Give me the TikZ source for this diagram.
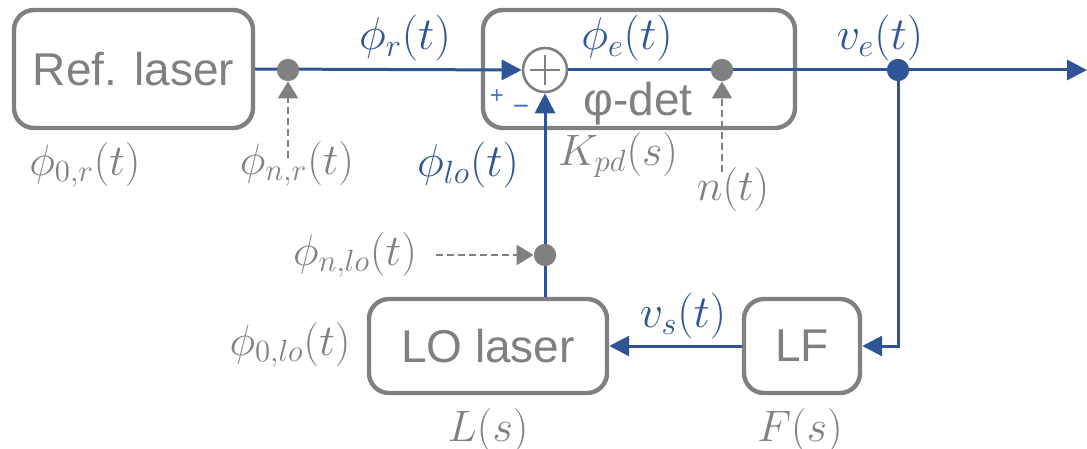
\RequirePackage{fix-cm}
\documentclass[tikz,border=0pt]{standalone}
\usepackage{fontspec}
\setmainfont{Liberation Sans}
\usetikzlibrary{arrows.meta}
\definecolor{lblue}{HTML}{2F5597}
\definecolor{lgray}{HTML}{808080}
\definecolor{pblue}{HTML}{4472C4}
\tikzset{
  blk/.style={draw=lgray, line width=2.2pt, rounded corners=10pt, fill=white, text=lgray, font=\fontsize{23}{27}\selectfont, inner sep=0pt},
  sig/.style={draw=lblue, line width=1.5pt},
  sigarrow/.style={sig, -{Triangle[length=10pt,width=10pt]}},
  noise/.style={draw=lgray, line width=1.1pt, dash pattern=on 3.5pt off 2pt, -{Triangle[length=8.5pt,width=10pt]}},
  gdot/.style={circle, fill=lgray, minimum size=11pt, inner sep=0pt},
  bdot/.style={circle, fill=lblue, minimum size=11pt, inner sep=0pt},
  blab/.style={text=lblue, font=\fontsize{23}{27}\selectfont, inner sep=0pt},
  glab/.style={text=lgray, font=\fontsize{22}{26}\selectfont, inner sep=0pt},
}
\begin{document}
\begin{tikzpicture}[x=0.5pt,y=-0.5pt]
\useasboundingbox (0,0) rectangle (1087,449);
% blocks
\node[blk, minimum width=119.5pt, minimum height=59pt] (ref) at (133.5,69) {Ref. laser};
\node[blk, minimum width=156pt, minimum height=59pt] (det) at (639,69) {};
\node[blk, minimum width=119pt, minimum height=47pt] (lo) at (488,346) {LO laser};
\node[blk, minimum width=58pt, minimum height=47pt] (lf) at (802,346) {LF};
\node[text=lgray, font=\fontsize{23}{27}\selectfont, inner sep=0pt] (dettxt) at (638,104) {φ-det};
% summing junction
\node[circle, draw=lgray, line width=1.3pt, minimum size=22pt, inner sep=0pt, fill=white] (sum) at (545,70) {};
\draw[lgray, line width=1.2pt] ([xshift=-7.5pt]sum.center) -- ([xshift=7.5pt]sum.center);
\draw[lgray, line width=1.2pt] ([yshift=-7.5pt]sum.center) -- ([yshift=7.5pt]sum.center);
% coordinates
\coordinate (out) at (1087,70);
\coordinate (nrs) at (288,158);
\coordinate (ns) at (722,172);
\coordinate (nlos) at (436,255);
% signal lines
\node[gdot] (dotr) at (288,70) {};
\node[gdot] (dote) at (722,70) {};
\node[bdot] (dotv) at (898,70) {};
\node[gdot] (dotlo) at (545,255) {};
\draw[sigarrow] (ref.east) -- (sum.west);
\draw[sigarrow] (sum.east) -- (out);
\draw[sigarrow] (dotv.center) |- (lf.east);
\draw[sigarrow] (lf.west) -- (lo.east);
\draw[sigarrow] (sum.south |- lo.north) -- (sum.south);
\node[gdot] at (dotr) {};
\node[gdot] at (dote) {};
\node[bdot] at (dotv) {};
\node[gdot] at (dotlo) {};
% noise inputs
\draw[noise] (nrs) -- (dotr);
\draw[noise] (ns) -- (dote);
\draw[noise] (nlos) -- (dotlo);
% labels
\node[blab] (lr) at (405,38) {$\phi_r(t)$};
\node[blab] (le) at (627,38) {$\phi_e(t)$};
\node[blab] (lve) at (880,38) {$v_e(t)$};
\node[blab] (llo) at (468,165) {$\phi_{lo}(t)$};
\node[blab] (lvs) at (683,316) {$v_s(t)$};
\node[glab] (l0r) at (85,165) {$\phi_{0,r}(t)$};
\node[glab] (lnr) at (297,164) {$\phi_{n,r}(t)$};
\node[glab] (lk) at (618,155) {$K_{pd}(s)$};
\node[glab] (ln) at (733,190) {$n(t)$};
\node[glab] (lnlo) at (355,255) {$\phi_{n,lo}(t)$};
\node[glab] (l0lo) at (290,345) {$\phi_{0,lo}(t)$};
\node[glab] (ll) at (488,430) {$L(s)$};
\node[glab] (lfs) at (800,430) {$F(s)$};
\node[text=pblue, font=\fontsize{12}{14}\selectfont, inner sep=0pt] (plus) at (497,97) {+};
\node[text=pblue, font=\fontsize{14}{16}\selectfont, inner sep=0pt] (minus) at (521,110) {−};
\end{tikzpicture}
\end{document}
